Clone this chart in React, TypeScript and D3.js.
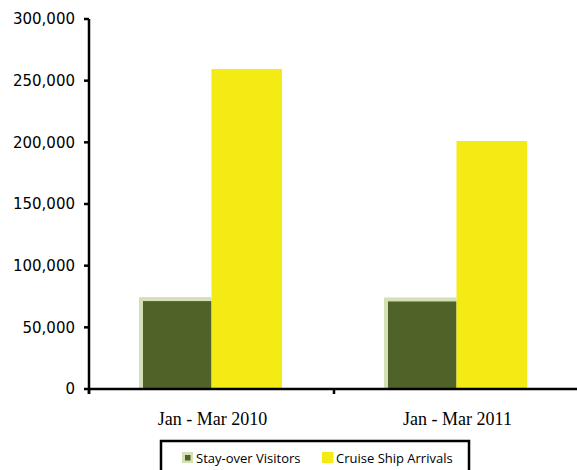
import React from "react";
import * as d3 from "d3";

// Visitor arrivals, first quarter of each year
const periods = ["Jan - Mar 2010", "Jan - Mar 2011"];
const seriesNames = ["Stay-over Visitors", "Cruise Ship Arrivals"];
const stayOver = [72900, 72600];
const cruiseShip = [259400, 201100];
const yTicks = [0, 50000, 100000, 150000, 200000, 250000, 300000];

const WIDTH = 577;
const HEIGHT = 470;
const plot = { left: 89, right: 579, top: 19, bottom: 389 };

const GREEN = "#4F6228";
const GREEN_EDGE = "#D3E0B8";
const YELLOW = "#F4EA14";

export default function App() {
  const x0 = d3.scaleBand<string>().domain(periods).range([plot.left, plot.right]).padding(0);
  const x1 = d3.scaleBand<string>().domain(seriesNames).range([52, 193]).padding(0);
  const y = d3.scaleLinear().domain([0, 300000]).range([plot.bottom, plot.top]);
  const fmt = d3.format(",");

  const edge = 2;

  return (
    <svg
      width={WIDTH}
      height={HEIGHT}
      style={{ position: "absolute", left: 0, top: 0, background: "#fff" }}
    >
      {periods.map((p, i) => {
        const gx = x0(p)!;
        const sv = stayOver[i];
        const cs = cruiseShip[i];
        const sx = gx + x1(seriesNames[0])!;
        const cx = gx + x1(seriesNames[1])!;
        const bw = x1.bandwidth();
        return (
          <g key={p}>
            {/* stay-over bar with its pale outline */}
            <rect
              x={sx - edge}
              y={y(sv) - edge}
              width={bw + edge}
              height={y(0) - y(sv) + edge}
              fill={GREEN_EDGE}
            />
            <rect
              x={sx + edge}
              y={y(sv) + edge}
              width={bw - edge}
              height={y(0) - y(sv) - edge}
              fill={GREEN}
            />
            <rect x={cx} y={y(cs)} width={bw} height={y(0) - y(cs)} fill={YELLOW} />
          </g>
        );
      })}

      {/* y axis */}
      <line x1={plot.left} x2={plot.left} y1={plot.top} y2={plot.bottom + 5} stroke="#000" strokeWidth={2.5} />
      {yTicks.map((t) => (
        <g key={t}>
          <line x1={plot.left - 5} x2={plot.left} y1={y(t)} y2={y(t)} stroke="#000" strokeWidth={2.5} />
          <text
            x={75}
            y={y(t)}
            dy="0.36em"
            textAnchor="end"
            fontFamily="'DejaVu Sans', sans-serif"
            fontSize={15}
            fill="#000"
          >
            {fmt(t)}
          </text>
        </g>
      ))}

      {/* x axis */}
      <line x1={plot.left} x2={plot.right} y1={plot.bottom} y2={plot.bottom} stroke="#000" strokeWidth={2.5} />
      {[...periods.map((p) => x0(p)!), plot.right].map((tx, i) => (
        <line key={i} x1={tx} x2={tx} y1={plot.bottom} y2={plot.bottom + 5} stroke="#000" strokeWidth={2.5} />
      ))}
      {periods.map((p) => (
        <text
          key={p}
          x={x0(p)! + x0.bandwidth() / 2 + 1}
          y={425}
          textAnchor="middle"
          fontFamily="'Liberation Serif', serif"
          fontSize={18}
          fill="#000"
        >
          {p}
        </text>
      ))}

      {/* legend */}
      <rect x={161} y={441} width={308} height={40} fill="#fff" stroke="#000" strokeWidth={2.5} />
      <rect x={182} y={452} width={11} height={11} fill={GREEN_EDGE} />
      <rect x={185} y={455} width={5.5} height={5.5} fill={GREEN} />
      <text x={196} y={462.5} fontFamily="'Open Sans', sans-serif" fontSize={13} fill="#000">
        {seriesNames[0]}
      </text>
      <rect x={322} y={452} width={11.5} height={11} fill={YELLOW} />
      <text x={336} y={462.5} fontFamily="'Open Sans', sans-serif" fontSize={13} fill="#000">
        {seriesNames[1]}
      </text>
    </svg>
  );
}
